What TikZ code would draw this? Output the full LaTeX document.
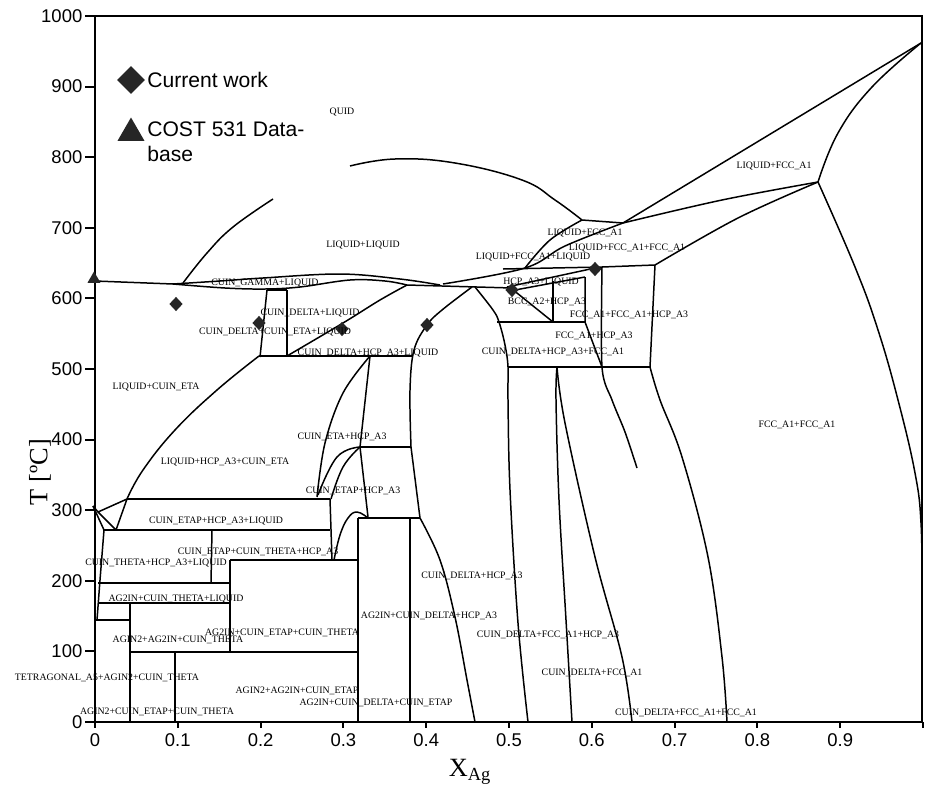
\documentclass[tikz,border=0pt]{standalone}
\usepackage{fontspec}
\setmainfont{Liberation Serif}
\newfontfamily\arialfont{Liberation Sans}
\usetikzlibrary{shapes.geometric}

\begin{document}
\begin{tikzpicture}[
    x=0.02cm, y=-0.02cm,
    phase/.style={font=\fontsize{5.6}{6}\selectfont, inner sep=0pt},
    bnd/.style={line width=0.85pt, line join=round},
    frame/.style={line width=1.1pt},
    cw/.style={diamond, fill=black!85, inner sep=0pt, minimum width=0.27cm, minimum height=0.29cm},
    cost/.style={regular polygon, regular polygon sides=3, fill=black!85, inner sep=0pt, minimum size=0.3cm},
    ticklab/.style={font=\arialfont\fontsize{10.5}{12}\selectfont, inner sep=1pt},
    legtxt/.style={font=\arialfont\fontsize{12}{14.2}\selectfont, inner sep=0pt, align=left}
  ]
    \useasboundingbox (0,0) rectangle (925,791);
    \draw[frame] (95,16) rectangle (922,722);

    \foreach \i in {0,...,10}{
      \pgfmathtruncatemacro\lab{100*\i}
      \draw[frame] (95,722-70.6*\i) -- ++(-10,0) node[ticklab, anchor=east] (ytick\i) {\lab};
    }
    \foreach \i in {0,...,10}{
      \draw[frame] (95+82.8*\i,722) -- ++(0,6);
    }
    \node[ticklab, anchor=north] (xtick0) at (95,731) {0};
    \foreach \i in {1,...,9}{
      \node[ticklab, anchor=north] (xtick\i) at (95+82.8*\i,731) {0.\i};
    }
    \node[font=\fontsize{15}{16}\selectfont] (xlab) at (470,772) {X\textsubscript{Ag}};
    \node[font=\fontsize{15}{16}\selectfont, rotate=90] (ylab) at (40,472) {T [ºC]};

    \node[cw, minimum width=0.56cm, minimum height=0.56cm] (legcw) at (131,80) {};
    \node[legtxt, anchor=west] (legcwtxt) at (147,80) {Current work};
    \node[cost, minimum size=0.62cm] (legcost) at (131,133) {};
    \node[legtxt, anchor=west] (legcosttxt) at (147,142) {COST 531 Data-\\base};

    % liquid side
    \draw[bnd] plot[smooth, tension=0.7] coordinates {(350,166) (395,159) (455,163) (522,180) (555,200) (582,220)};
    \draw[bnd] (582,220) -- (623,223);
    \draw[bnd] (921,43) -- (623,223);
    \draw[bnd] plot[smooth, tension=0.6] coordinates {(623,223) (565,246) (525,268) (443,284)};
    \draw[bnd] plot[smooth, tension=0.6] coordinates {(582,220) (550,240) (525,268)};
    \draw[bnd] (503,269) -- (602,267) -- (655,265);
    \draw[bnd] plot[smooth, tension=0.6] coordinates {(655,265) (738,218) (818,182)};
    \draw[bnd] plot[smooth, tension=0.6] coordinates {(818,182) (722,200) (623,223)};
    \draw[bnd] plot[smooth, tension=0.7] coordinates {(921,43) (872,87) (838,133) (818,182)};
    \draw[bnd] plot[smooth, tension=0.7] coordinates {(818,182) (855,267) (878,330) (898,400) (915,473) (921,523) (922,590)};

    \draw[bnd] (95,281) -- (173,284);
    \draw[bnd] plot[smooth, tension=0.6] coordinates {(173,284) (220,281) (263,278) (340,274) (400,279) (440,285)};
    \draw[bnd] plot[smooth, tension=0.6] coordinates {(173,284) (225,288) (265,289) (300,287) (350,280) (385,281) (407,285)};
    \draw[bnd] plot[smooth, tension=0.7] coordinates {(183,283) (207,253) (233,227) (273,199)};
    \draw[bnd] (407,285) -- (512,288);
    \draw[bnd] plot[smooth, tension=0.6] coordinates {(287,356) (343,323) (380,300) (407,285)};

    \draw[bnd] (267,290) -- (287,290);
    \draw[bnd] (267,290) -- (260,357);
    \draw[bnd] (287,290) -- (287,356);
    \draw[bnd] (259,356) -- (412,356);

    % hcp and fcc side
    \draw[bnd] (507,287) -- (595,268);
    \draw[bnd] (515,290) -- (585,277);
    \draw[bnd] (512,289) -- (553,322);
    \draw[bnd] (553,281) -- (553,322);
    \draw[bnd] (585,277) -- (585,322) -- (602,367);
    \draw[bnd] (497,322) -- (585,322);
    \draw[bnd] plot[smooth, tension=0.5] coordinates {(602,267) (602,367) (612,400) (625,432) (637,468)};
    \draw[bnd] (655,265) -- (650,367);
    \draw[bnd] plot[smooth, tension=0.6] coordinates {(650,367) (660,400) (682,457) (708,557) (722,657) (727,722)};
    \draw[bnd] (508,367) -- (650,367);
    \draw[bnd] plot[smooth, tension=0.6] coordinates {(475,287) (493,310) (499,322) (505,345) (508,367) (508,400) (510,490) (518,623) (528,722)};
    \draw[bnd] plot[smooth, tension=0.6] coordinates {(557,367) (556,400) (559,500) (566,620) (572,722)};
    \draw[bnd] plot[smooth, tension=0.6] coordinates {(557,367) (565,423) (595,557) (622,657) (632,722)};

    \draw[bnd] plot[smooth, tension=0.6] coordinates {(472,287) (442,310) (427,325) (414,350) (410,390) (411,447)};
    \draw[bnd] (411,447) -- (420,518);
    \draw[bnd] plot[smooth, tension=0.6] coordinates {(420,518) (440,560) (455,617) (467,680) (475,722)};
    \draw[bnd] (360,447) -- (411,447);
    \draw[bnd] (358,518) -- (420,518);
    \draw[bnd] (410,518) -- (410,722);
    \draw[bnd] (358,518) -- (358,722);

    % indium side
    \draw[bnd] plot[smooth, tension=0.6] coordinates {(370,356) (343,393) (325,443) (317,497)};
    \draw[bnd] (370,356) -- (360,447) -- (368,517);
    \draw[bnd] plot[smooth, tension=0.7] coordinates {(360,447) (337,457) (318,495)};
    \draw[bnd] plot[smooth, tension=0.7] coordinates {(360,447) (343,467) (331,499)};
    \draw[bnd] plot[smooth, tension=0.7] coordinates {(259,356) (217,390) (175,430) (143,470) (127,499)};
    \draw[bnd] (127,499) -- (330,499);
    \draw[bnd] (330,499) -- (332,560);
    \draw[bnd] plot[smooth, tension=0.7] coordinates {(334,560) (340,535) (348,518) (357,512) (368,518)};
    \draw[bnd] (93,506) -- (98,512) -- (127,499) -- (116,530) -- (98,512);
    \draw[bnd] (93,506) -- (104,530);
    \draw[bnd] (104,530) -- (330,530);
    \draw[bnd] (104,530) -- (100,580) -- (97,620);
    \draw[bnd] (212,530) -- (211,583);
    \draw[bnd] (98,583) -- (230,583);
    \draw[bnd] (230,560) -- (358,560);
    \draw[bnd] (230,560) -- (230,652);
    \draw[bnd] (98,603) -- (230,603);
    \draw[bnd] (130,603) -- (130,722);
    \draw[bnd] (95,620) -- (130,620);
    \draw[bnd] (130,652) -- (358,652);
    \draw[bnd] (175,652) -- (175,722);

    \node[cw] (cw1) at (176,304) {};
    \node[cw] (cw2) at (259,323) {};
    \node[cw] (cw3) at (342,329) {};
    \node[cw] (cw4) at (427,325) {};
    \node[cw] (cw5) at (512,290) {};
    \node[cw] (cw6) at (595,269) {};
    \node[cost] (cost1) at (94,279) {};

    \node[phase] (liq) at (342,112) {QUID};
    \node[phase] (liqliq) at (363,245) {LIQUID+LIQUID};
    \node[phase] (liqfcc) at (774,166) {LIQUID+FCC\_A1};
    \node[phase] (liqfccb) at (585,233) {LIQUID+FCC\_A1};
    \node[phase] (liqfccfcc) at (627,248) {LIQUID+FCC\_A1+FCC\_A1};
    \node[phase] (liqfccliq) at (533,257) {LIQUID+FCC\_A1+LIQUID};
    \node[phase] (hcpliq) at (541,282) {HCP\_A3+LIQUID};
    \node[phase] (bcchcp) at (547,302) {BCC\_A2+HCP\_A3};
    \node[phase] (fccfcchcp) at (629,315) {FCC\_A1+FCC\_A1+HCP\_A3};
    \node[phase] (fcchcp) at (594,336) {FCC\_A1+HCP\_A3};
    \node[phase] (dhcpfcc) at (553,352) {CUIN\_DELTA+HCP\_A3+FCC\_A1};
    \node[phase] (gammaliq) at (265,283) {CUIN\_GAMMA+LIQUID};
    \node[phase] (deltaliq) at (310,313) {CUIN\_DELTA+LIQUID};
    \node[phase] (detaliq) at (275,332) {CUIN\_DELTA+CUIN\_ETA+LIQUID};
    \node[phase] (dhcpliq) at (368,353) {CUIN\_DELTA+HCP\_A3+LIQUID};
    \node[phase] (liqeta) at (156,387) {LIQUID+CUIN\_ETA};
    \node[phase] (etahcp) at (342,437) {CUIN\_ETA+HCP\_A3};
    \node[phase] (liqhcpeta) at (225,462) {LIQUID+HCP\_A3+CUIN\_ETA};
    \node[phase] (etaphcp) at (353,491) {CUIN\_ETAP+HCP\_A3};
    \node[phase] (etaphcpliq) at (216,521) {CUIN\_ETAP+HCP\_A3+LIQUID};
    \node[phase] (etapthhcp) at (258,552) {CUIN\_ETAP+CUIN\_THETA+HCP\_A3};
    \node[phase] (thhcpliq) at (156,563) {CUIN\_THETA+HCP\_A3+LIQUID};
    \node[phase] (agthliq) at (176,599) {AG2IN+CUIN\_THETA+LIQUID};
    \node[phase] (agetapth) at (282,633) {AG2IN+CUIN\_ETAP+CUIN\_THETA};
    \node[phase] (aginagth) at (178,640) {AGIN2+AG2IN+CUIN\_THETA};
    \node[phase] (tetra) at (107,678) {TETRAGONAL\_A5+AGIN2+CUIN\_THETA};
    \node[phase] (aginagetap) at (297,691) {AGIN2+AG2IN+CUIN\_ETAP};
    \node[phase] (agdetap) at (376,703) {AG2IN+CUIN\_DELTA+CUIN\_ETAP};
    \node[phase] (aginetapth) at (157,712) {AGIN2+CUIN\_ETAP+CUIN\_THETA};
    \node[phase] (agdhcp) at (429,616) {AG2IN+CUIN\_DELTA+HCP\_A3};
    \node[phase] (dhcp) at (472,576) {CUIN\_DELTA+HCP\_A3};
    \node[phase] (dfcchcp) at (548,635) {CUIN\_DELTA+FCC\_A1+HCP\_A3};
    \node[phase] (dfcc) at (592,673) {CUIN\_DELTA+FCC\_A1};
    \node[phase] (dfccfcc) at (686,713) {CUIN\_DELTA+FCC\_A1+FCC\_A1};
    \node[phase] (fccfcc) at (797,425) {FCC\_A1+FCC\_A1};
  \end{tikzpicture}
\end{document}
